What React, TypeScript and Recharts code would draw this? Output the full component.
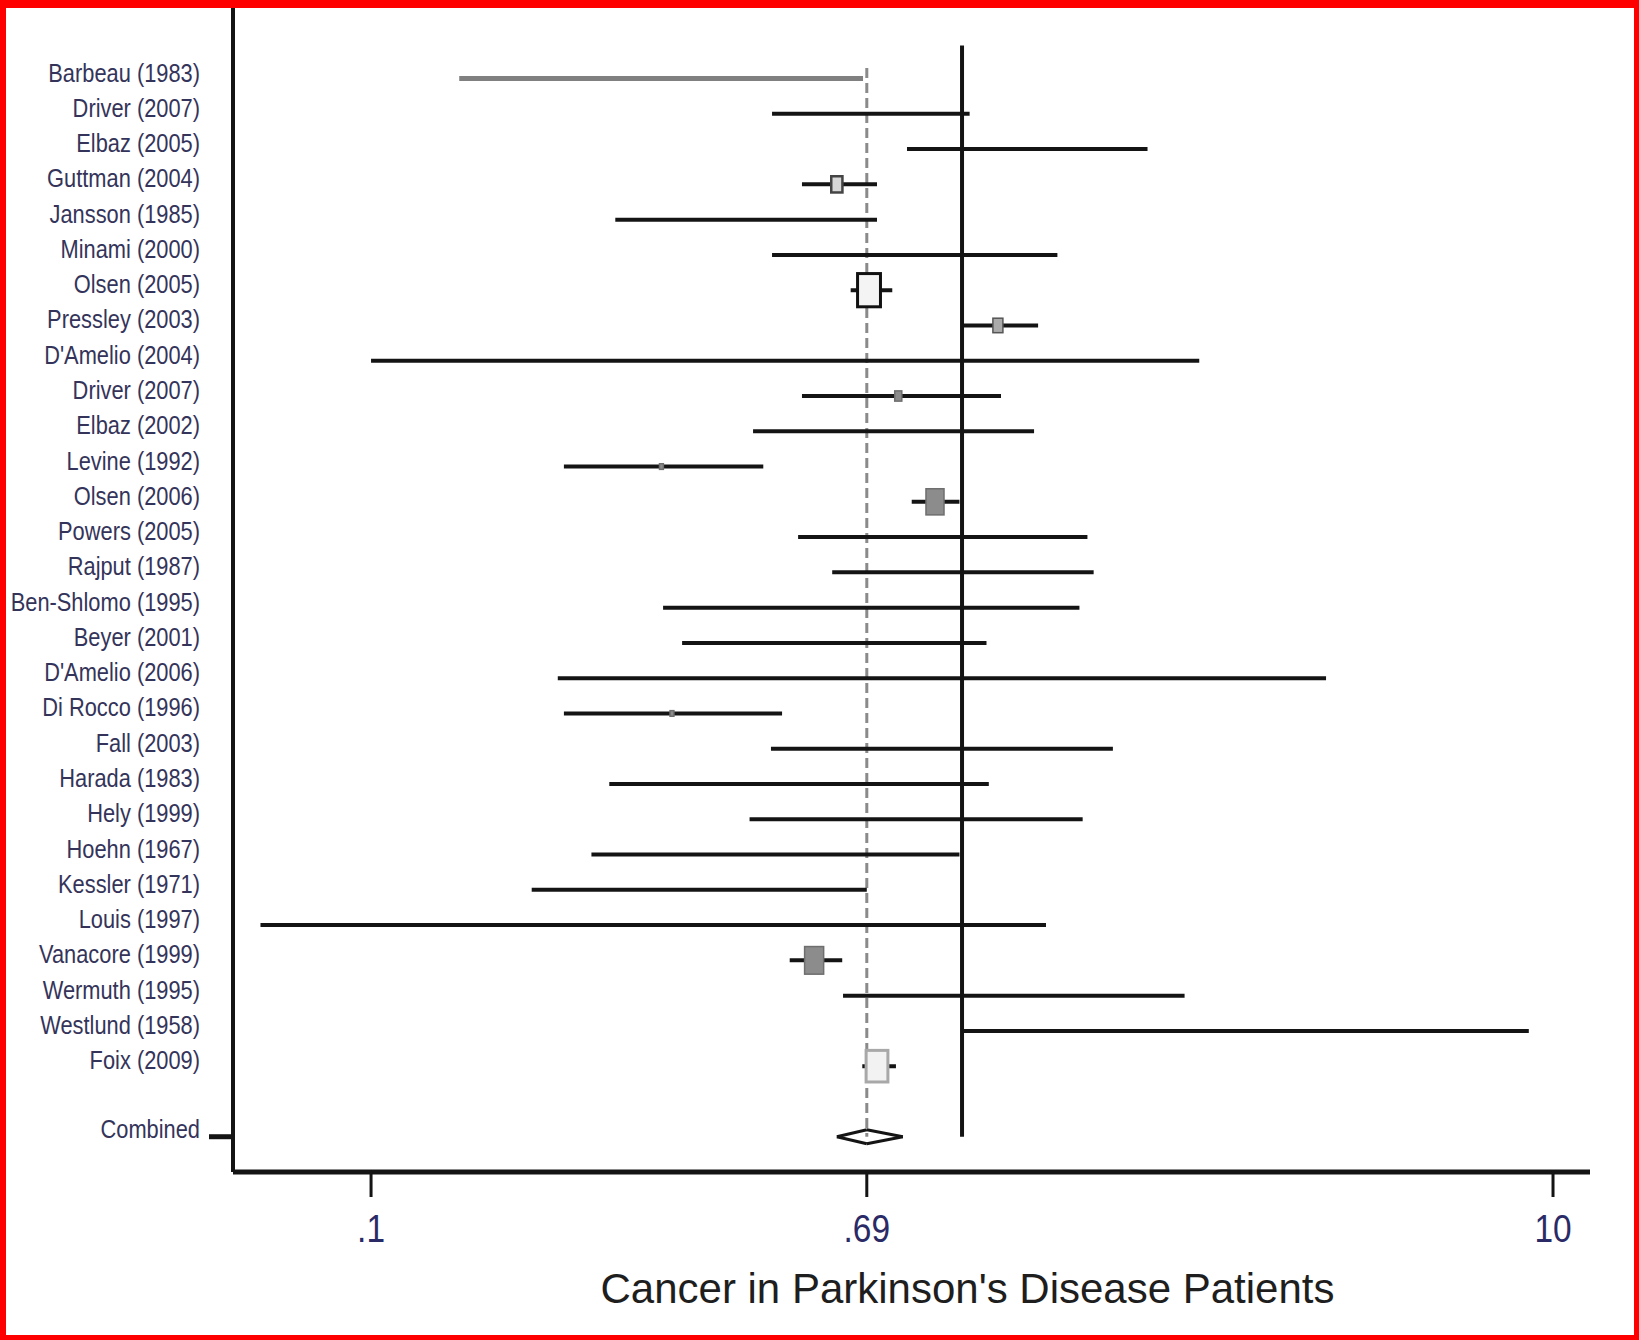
import React from 'react';
import { ComposedChart, XAxis, YAxis, Scatter, ReferenceLine, Label } from 'recharts';

// ---------- data ----------
const studies = [
  "Barbeau (1983)", "Driver (2007)", "Elbaz (2005)", "Guttman (2004)", "Jansson (1985)",
  "Minami (2000)", "Olsen (2005)", "Pressley (2003)", "D'Amelio (2004)", "Driver (2007)",
  "Elbaz (2002)", "Levine (1992)", "Olsen (2006)", "Powers (2005)", "Rajput (1987)",
  "Ben-Shlomo (1995)", "Beyer (2001)", "D'Amelio (2006)", "Di Rocco (1996)", "Fall (2003)",
  "Harada (1983)", "Hely (1999)", "Hoehn (1967)", "Kessler (1971)", "Louis (1997)",
  "Vanacore (1999)", "Wermuth (1995)", "Westlund (1958)", "Foix (2009)",
];
const lower = [
  0.141, 0.477, 0.807, 0.536, 0.259,
  0.477, 0.648, 1.0, 0.1, 0.536,
  0.443, 0.212, 0.822, 0.528, 0.603,
  0.312, 0.336, 0.207, 0.212, 0.475,
  0.253, 0.437, 0.236, 0.187, 0.065,
  0.511, 0.629, 1.0, 0.678,
];
const upper = [
  0.68, 1.03, 2.06, 0.718, 0.718,
  1.45, 0.762, 1.345, 2.52, 1.164,
  1.324, 0.461, 0.99, 1.63, 1.67,
  1.58, 1.10, 4.13, 0.496, 1.80,
  1.11, 1.60, 0.99, 0.69, 1.387,
  0.627, 2.38, 9.1, 0.773,
];
const estimate = [
  null, null, null, 0.614, null,
  null, 0.696, 1.15, null, 0.78,
  null, 0.31, 0.90, null, null,
  null, null, null, 0.323, null,
  null, null, null, null, null,
  0.562, null, null, 0.718,
];
const weight = [
  0, 0, 0, 5, 0,
  0, 21, 4, 0, 2,
  0, 0.6, 13, 0, 0,
  0, 0, 0, 0.6, 0,
  0, 0, 0, 0, 0,
  14.5, 0, 0, 19,
];
const combinedLabel = "Combined";
const combinedLower = 0.614;
const combinedEstimate = 0.69;
const combinedUpper = 0.794;
const nullValue = 1;
const xTicks = [0.1, 0.69, 10];
const xTickLabels = [".1", ".69", "10"];
const xTitle = "Cancer in Parkinson's Disease Patients";

// ---------- derived ----------
const COMBINED_ROW = studies.length + 1;
const yTicks = [...studies.map((_, i) => i), COMBINED_ROW];
const markerData = studies
  .map((_, i) => (estimate[i] != null ? { x: estimate[i], y: i, w: weight[i], row: i } : null))
  .filter(Boolean);

// ---------- styles ----------
const FONT = "'Liberation Sans', Arial, Helvetica, sans-serif";
const INK = '#141414';
const boxStyles: Record<number, any> = {
  3: { fill: '#d8d8d8', stroke: '#444', strokeWidth: 2.5 },
  6: { fill: '#f4f4f4', stroke: '#111', strokeWidth: 3 },
  7: { fill: '#aaa', stroke: '#555', strokeWidth: 1.5 },
  28: { fill: '#f2f2f2', stroke: '#a8a8a8', strokeWidth: 3 },
};
const defaultBox = { fill: '#8c8c8c', stroke: '#6e6e6e', strokeWidth: 1.5 };

const Box = (props: any) => {
  const { cx, cy, payload } = props;
  if (cx == null || cy == null) return null;
  const w = 5 * Math.sqrt(payload.w);
  const h = w * 1.45;
  const st = boxStyles[payload.row] || defaultBox;
  return <rect x={cx - w / 2} y={cy - h / 2} width={w} height={h} {...st} />;
};

const YTick = (props: any) => {
  const { x, y, payload } = props;
  const i = payload.value;
  const isComb = i === COMBINED_ROW;
  const label = isComb ? combinedLabel : studies[i];
  return (
    <g>
      <text
        transform={`translate(${x - 33},${y + (isComb ? 1 : 3)}) scale(0.84,1)`}
        textAnchor="end"
        fontSize={26}
        fontFamily={FONT}
        fill="#34345a"
      >
        {label}
      </text>
      {isComb && <line x1={x - 24} x2={x} y1={y} y2={y} stroke={INK} strokeWidth={5} />}
    </g>
  );
};

const XTick = (props: any) => {
  const { x, y, payload } = props;
  const i = xTicks.indexOf(payload.value);
  return (
    <text
      transform={`translate(${x},${y + 43}) scale(0.88,1)`}
      textAnchor="middle"
      fontSize={38}
      fontFamily={FONT}
      fill="#2a2a66"
    >
      {xTickLabels[i]}
    </text>
  );
};

const TitleLabel = (props: any) => {
  const vb = props.viewBox || { x: 233, y: 1172, width: 1357, height: 168 };
  return (
    <text
      x={vb.x + vb.width / 2 + 56}
      y={vb.y + 131}
      textAnchor="middle"
      fontSize={42}
      fontFamily={FONT}
      fill="#1e1e1e"
    >
      {xTitle}
    </text>
  );
};

export default function App() {
  return (
    <div style={{ position: 'absolute', left: 0, top: 0, width: 1639, height: 1340, background: '#fff' }}>
      <ComposedChart
        width={1639}
        height={1340}
        margin={{ top: 8, right: 49, bottom: 0, left: 0 }}
        data={markerData}
      >
        <XAxis
          type="number"
          dataKey="x"
          scale="log"
          domain={[0.0584, 11.55]}
          allowDataOverflow
          ticks={xTicks}
          interval={0}
          height={168}
          tickSize={25}
          tickMargin={2}
          axisLine={{ stroke: INK, strokeWidth: 5 }}
          tickLine={{ stroke: INK, strokeWidth: 3 }}
          tick={XTick}
        >
          <Label content={TitleLabel} />
        </XAxis>
        <YAxis
          type="number"
          dataKey="y"
          domain={[-2, 31]}
          reversed
          allowDataOverflow
          ticks={yTicks}
          interval={0}
          width={233}
          tickSize={0}
          tickMargin={0}
          tickLine={false}
          axisLine={{ stroke: INK, strokeWidth: 4 }}
          tick={YTick}
        />
        <ReferenceLine
          segment={[{ x: combinedEstimate, y: -0.3 }, { x: combinedEstimate, y: COMBINED_ROW }]}
          stroke="#8a8a8a"
          strokeWidth={3}
          strokeDasharray="10 5"
        />
        <ReferenceLine
          segment={[{ x: nullValue, y: -0.94 }, { x: nullValue, y: COMBINED_ROW }]}
          stroke={INK}
          strokeWidth={4}
        />
        <Scatter data={markerData} dataKey="y" shape={Box} isAnimationActive={false} />
        {studies.map((s, i) => (
          <ReferenceLine
            key={'ci' + i}
            segment={[{ x: lower[i], y: i }, { x: upper[i], y: i }]}
            stroke={i === 0 ? '#808080' : INK}
            strokeWidth={i === 0 ? 5 : 4}
          />
        ))}
        <ReferenceLine segment={[{ x: combinedLower, y: COMBINED_ROW }, { x: combinedEstimate, y: COMBINED_ROW - 0.2 }]} stroke={INK} strokeWidth={3} />
        <ReferenceLine segment={[{ x: combinedEstimate, y: COMBINED_ROW - 0.2 }, { x: combinedUpper, y: COMBINED_ROW }]} stroke={INK} strokeWidth={3} />
        <ReferenceLine segment={[{ x: combinedUpper, y: COMBINED_ROW }, { x: combinedEstimate, y: COMBINED_ROW + 0.2 }]} stroke={INK} strokeWidth={3} />
        <ReferenceLine segment={[{ x: combinedEstimate, y: COMBINED_ROW + 0.2 }, { x: combinedLower, y: COMBINED_ROW }]} stroke={INK} strokeWidth={3} />
      </ComposedChart>
      <div
        style={{
          position: 'absolute',
          left: 0,
          top: 0,
          width: 1639,
          height: 1340,
          boxSizing: 'border-box',
          borderStyle: 'solid',
          borderColor: '#ff0000',
          borderWidth: '8px 5px 5px 6px',
          pointerEvents: 'none',
        }}
      />
    </div>
  );
}
